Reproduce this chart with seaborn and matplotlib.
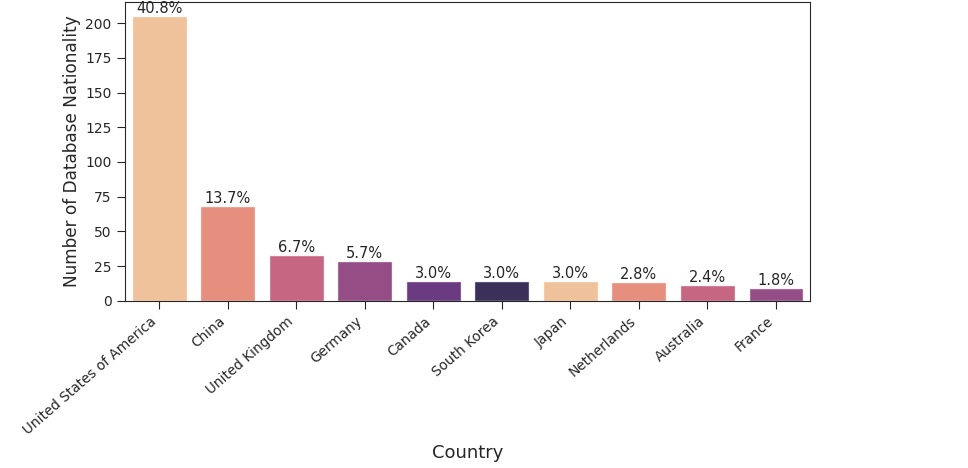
import pandas as pd
import seaborn as sns
import matplotlib.pyplot as plt

# Top 10 countries by number of databases
countries = ['United States of America', 'China', 'United Kingdom', 'Germany', 'Canada',
             'South Korea', 'Japan', 'Netherlands', 'Australia', 'France']
counts = [205, 68, 33, 28.5, 14.5, 14.5, 14.5, 13.5, 11.5, 9]
share_labels = ['40.8%', '13.7%', '6.7%', '5.7%', '3.0%', '3.0%', '3.0%', '2.8%', '2.4%', '1.8%']

df = pd.DataFrame({'Country': countries, 'Count': counts})

sns.set_style("ticks")

# magma_r with 6 colours, cycled over the 10 bars
base = sns.color_palette("magma_r", 6)
colors = [base[i % len(base)] for i in range(len(countries))]

fig = plt.figure(figsize=(9.68, 4.68), dpi=100)
ax = fig.add_axes([0.129, 0.357, 0.708, 0.639])
sns.barplot(data=df, x='Country', y='Count', hue='Country', palette=colors,
            legend=False, alpha=0.9, ax=ax)

for cont, lab in zip(ax.containers, share_labels):
    ax.bar_label(cont, labels=[lab], fontsize=10.5, padding=0, color='#262626')

ax.set_xlabel('Country', fontsize=13, labelpad=5)
ax.set_ylabel('Number of Database Nationality', fontsize=12.2, labelpad=3)
ax.tick_params(axis='both', length=6)
ax.tick_params(axis='x', labelrotation=41, labelsize=9.8)
for t in ax.get_xticklabels():
    t.set_ha('right')

fig.savefig('out.png', dpi=100)
